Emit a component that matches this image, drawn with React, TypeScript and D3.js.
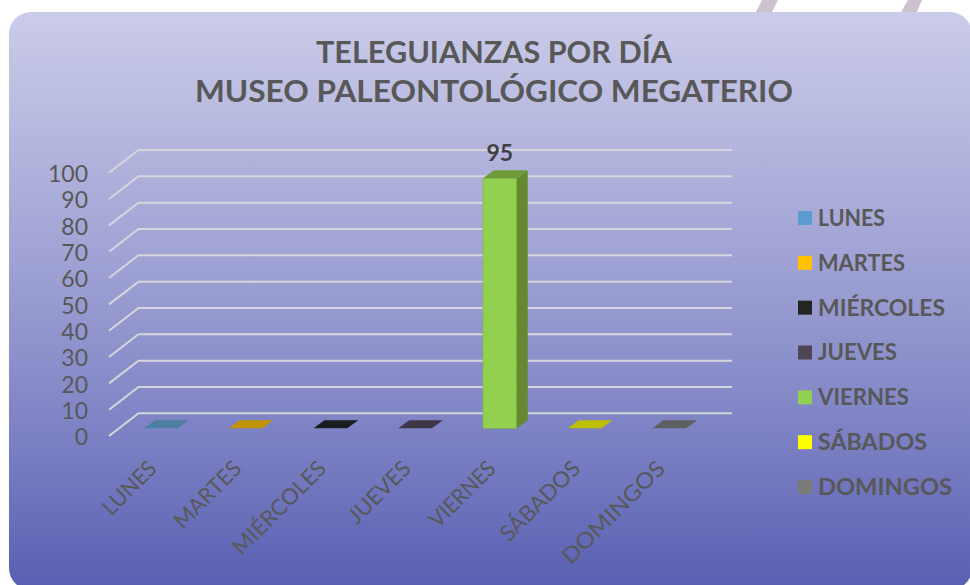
import React from "react";
import * as d3 from "d3";

const categories = ["LUNES", "MARTES", "MIÉRCOLES", "JUEVES", "VIERNES", "SÁBADOS", "DOMINGOS"];
const values = [0, 0, 0, 0, 95, 0, 0];
const legendColors = ["#5b9bd0", "#ffc000", "#242424", "#4f4655", "#92d050", "#ffff00", "#7a7a7a"];
const topColors = ["#4b7fa2", "#c09300", "#1c1c20", "#3f3748", "#6f9a38", "#bfbf00", "#5f5f62"];
const sideColors = ["#3f6f90", "#a88000", "#111", "#332c3a", "#64892f", "#a0a000", "#505052"];
const yTicks = d3.range(0, 101, 10);
const titleLines = ["TELEGUIANZAS POR DÍA", "MUSEO PALEONTOLÓGICO MEGATERIO"];

const FONT = "Lato, 'Open Sans', sans-serif";
const TEXT = "#585858";
const legendWidths = [67, 87, 127, 79, 91, 109, 134];
const axisWidths = [66, 85, 122, 78, 83, 103, 135];

const yBack = d3.scaleLinear().domain([0, 100]).range([413.3, 150]);
const x = d3.scaleBand<string>().domain(categories).range([144, 144 + 84.75 * 6 + 33.7]).paddingInner(0.602).paddingOuter(0);
const DX = 11, DY = 8;
const FLOOR = 428.3;
const h = (v: number) => yBack(0) - yBack(v);

export default function App() {
  const bw = x.bandwidth();
  return (
    <svg width={970} height={585} style={{ position: "absolute", left: 0, top: 0, display: "block", background: "#fff" }}>
      <defs>
        <linearGradient id="bg" x1="0" y1="0" x2="0" y2="1">
          <stop offset="0" stopColor="#cbcce9" />
          <stop offset="0.5" stopColor="#989bd0" />
          <stop offset="0.75" stopColor="#7a7fc3" />
          <stop offset="1" stopColor="#585fb1" />
        </linearGradient>
      </defs>
      <path d="M762,0L778,0L771,14L755,14Z" fill="#cbc3cc" />
      <path d="M908,0L922,0L916,14L900,14Z" fill="#cbc3cc" />
      <rect x={9} y={12} width={963} height={578} rx={22} ry={22} fill="url(#bg)" />
      <text textAnchor="middle" fontFamily={FONT} fontWeight={700} fontSize={31} fill={TEXT}>
        <tspan x={494} y={63} textLength={356} lengthAdjust="spacingAndGlyphs">{titleLines[0]}</tspan>
        <tspan x={494} y={102} textLength={598} lengthAdjust="spacingAndGlyphs">{titleLines[1]}</tspan>
      </text>
      {yTicks.map((t) => (
        <g key={t}>
          <polyline
            points={`109,${yBack(t) + 22.7} 138.5,${yBack(t)} 732,${yBack(t)}`}
            fill="none" stroke="#d6d6dc" strokeWidth={2}
          />
          <text x={88} y={yBack(t) + 32} textAnchor="end" fontFamily={FONT} fontWeight={400} fontSize={23} fill={TEXT}>{t}</text>
        </g>
      ))}
      {categories.map((c, i) => {
        const x0 = x(c) as number, x1 = x0 + bw, top = FLOOR - h(values[i]);
        return (
          <g key={c}>
            {values[i] > 0 && (
              <rect x={x0} y={top} width={bw} height={FLOOR - top} fill={legendColors[i]} stroke="#7fb545" strokeWidth={0.6} />
            )}
            {values[i] > 0 && (
              <path d={`M${x1},${top}L${x1 + DX},${top - DY}L${x1 + DX},${FLOOR - DY}L${x1},${FLOOR}Z`} fill={sideColors[i]} />
            )}
            <path d={`M${x0},${top}L${x1},${top}L${x1 + DX},${top - DY}L${x0 + DX},${top - DY}Z`} fill={topColors[i]} />
            {values[i] > 0 && (
              <text x={x0 + bw / 2} y={top - 17} textAnchor="middle" fontFamily={FONT} fontWeight={700} fontSize={23} fill="#404040">{values[i]}</text>
            )}
            <text
              transform={`translate(${x0 + 14},${470}) rotate(-45)`}
              textAnchor="end"
              textLength={axisWidths[i]} lengthAdjust="spacingAndGlyphs"
              fontFamily={FONT} fontWeight={400} fontSize={22} fill={TEXT}
            >{c}</text>
          </g>
        );
      })}
      {categories.map((c, i) => {
        const cy = 218 + 44.83 * i;
        return (
          <g key={c}>
            <rect x={798} y={cy - 7} width={14} height={14} fill={legendColors[i]} />
            <text x={818} y={cy + 8} textLength={legendWidths[i]} lengthAdjust="spacingAndGlyphs" fontFamily={FONT} fontWeight={700} fontSize={22} fill={TEXT}>{c}</text>
          </g>
        );
      })}
    </svg>
  );
}
